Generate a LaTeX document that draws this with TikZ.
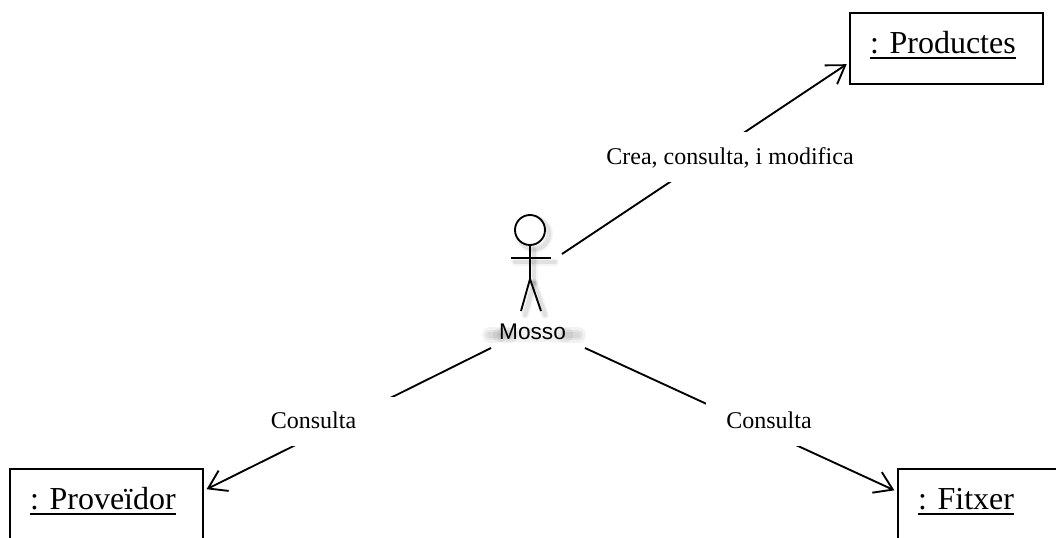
\documentclass[tikz,border=0pt]{standalone}
\usepackage{fontspec}
\setmainfont{Liberation Serif}
\newfontfamily\actorfont{Liberation Sans}
\usetikzlibrary{arrows.meta,calc}
\newsavebox{\ulbox}
\newcommand{\ulined}[1]{\sbox{\ulbox}{#1}\rlap{\rule[-4pt]{\wd\ulbox}{1.5pt}}\usebox{\ulbox}}
\frenchspacing
\tikzset{
  objbox/.style={draw=black,line width=1.5pt,fill=white,anchor=north west,outer sep=0pt,
    inner xsep=15pt,inner ysep=0pt,text width=114.75pt,align=left,
    text height=30.4pt,text depth=22.5pt,font=\fontsize{24}{28}\selectfont},
  linklabel/.style={fill=white,inner sep=0pt,outer sep=0pt,minimum height=37pt,
    text height=13pt,text depth=1.8pt,align=center,font=\fontsize{18}{22}\selectfont},
  conn/.style={draw=black,line width=1.4pt,-{Straight Barb[length=13pt,width=17pt,line width=1.4pt]},shorten >=3pt},
  stick/.style={draw=black,line width=1.4pt},
  shade1/.style={draw=black,opacity=.04,line cap=round,line width=6pt},
  shade2/.style={draw=black,opacity=.08,line cap=round,line width=3.5pt},
  smudge/.style={draw=black,opacity=.05,line cap=round},
}
\begin{document}
\begin{tikzpicture}[x=0.75pt,y=-0.75pt]
\useasboundingbox (0,0) rectangle (1056,538);
\clip (0,0) rectangle (1056,538);
\fill[white] (0,0) rectangle (1056,538);

% blurred shadow of the actor
\foreach \st in {shade1,shade2}{
  \draw[\st] (534,234) circle (15);
  \draw[\st] (515,262) -- (555,262);
  \draw[\st] (534,250) -- (534,283);
  \draw[\st] (534,283) -- (525,315);
  \draw[\st] (534,283) -- (545,315);
}
% blurred smudge behind the actor's name
\foreach \w in {4,8,12}{
  \draw[smudge,line width=\w pt] (490,335) -- (498,335);
  \draw[smudge,line width=\w pt] (505,335) -- (510,335);
  \draw[smudge,line width=\w pt] (566,335) -- (578,335);
}
\draw[smudge,line width=11pt] (500,335) -- (566,335);

% actor
\draw[stick,fill=white] (530,230) circle (15);
\draw[stick] (530,245) -- (530,279);
\draw[stick] (511,258) -- (551,258);
\draw[stick] (530,279) -- (521,311);
\draw[stick] (530,279) -- (541,311);
\node[inner sep=0pt,font=\actorfont\fontsize{17}{20}\selectfont,text height=12.5pt,text depth=0pt,anchor=base] (mosso) at (532.5,339) {Mosso};

% objects
\node[objbox] (prod) at (850,13) {\ulined{: Productes}};
\node[objbox] (prov) at (10,469) {\ulined{: Proveïdor}};
\node[objbox] (fitx) at (898,469) {\ulined{: Fitxer}};

% connector starts, next to the actor
\coordinate (actorNE) at (562,254);
\coordinate (actorSW) at (491,348);
\coordinate (actorSE) at (585,348);
\coordinate (tipA) at (0,62);
\coordinate (tipB) at (0,491);
\coordinate (tipC) at (0,492);

\draw[conn] (actorNE) -- (prod.west |- tipA);
\draw[conn] (actorSW) -- (prov.east |- tipB);
\draw[conn] (actorSE) -- (fitx.west |- tipC);

% connector labels
\node[linklabel,minimum width=187.5pt,text height=14pt,text depth=2pt] (lblA) at (730,157) {Crea, consulta, i modifica};
\node[linklabel,minimum width=121.5pt] (lblB) at (313.5,421.5) {Consulta};
\node[linklabel,minimum width=94.5pt] (lblC) at (769,421.5) {Consulta};
\end{tikzpicture}
\end{document}
